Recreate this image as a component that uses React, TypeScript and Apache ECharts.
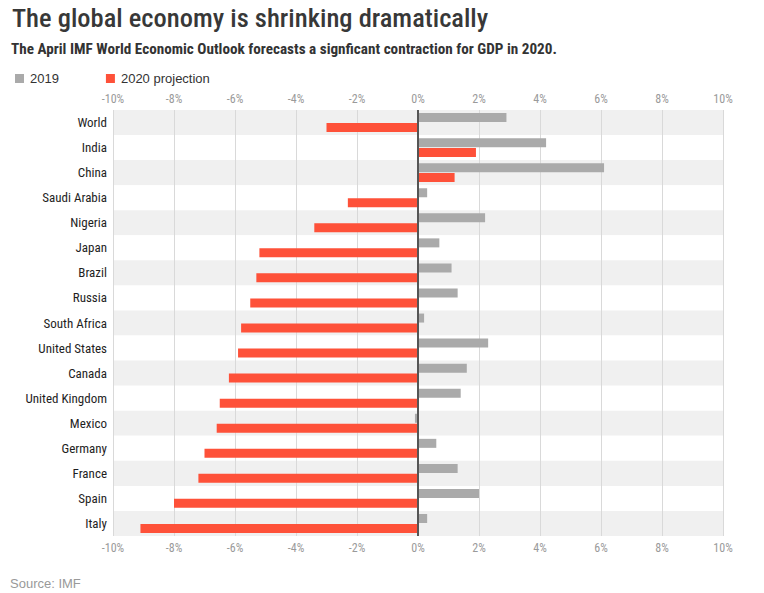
import React, { useEffect, useRef } from "react";
import * as echarts from "echarts";

const countries = [
  "World", "India", "China", "Saudi Arabia", "Nigeria", "Japan", "Brazil", "Russia",
  "South Africa", "United States", "Canada", "United Kingdom", "Mexico", "Germany",
  "France", "Spain", "Italy",
];
const gdp2019 = [2.9, 4.2, 6.1, 0.3, 2.2, 0.7, 1.1, 1.3, 0.2, 2.3, 1.6, 1.4, -0.1, 0.6, 1.3, 2.0, 0.3];
const gdp2020 = [-3.0, 1.9, 1.2, -2.3, -3.4, -5.2, -5.3, -5.5, -5.8, -5.9, -6.2, -6.5, -6.6, -7.0, -7.2, -8.0, -9.1];
const seriesNames = ["2019", "2020 projection"];
const titleText = "The global economy is shrinking dramatically";
const subtitleText = "The April IMF World Economic Outlook forecasts a signficant contraction for GDP in 2020.";
const sourceText = "Source: IMF";

const COND = "'Roboto Condensed', 'Open Sans Condensed', sans-serif";
const SANS = "'Liberation Sans', Arial, sans-serif";

export default function App() {
  const ref = useRef<HTMLDivElement>(null);
  useEffect(() => {
    if (!ref.current) return;
    const chart = echarts.init(ref.current, null, { renderer: "svg" });
    const xAxisBase = {
      type: "value" as const,
      min: -10,
      max: 10,
      interval: 2,
      axisLine: { show: false },
      axisTick: { show: false },
    };
    const labelBase = {
      formatter: (v: number) => `${v}%`,
      color: "#9a9a9a",
      fontFamily: COND,
      fontSize: 12,
    };
    chart.setOption({
      animation: false,
      backgroundColor: "#fff",
      legend: {
        left: 10,
        top: 67,
        icon: "rect",
        itemWidth: 9,
        itemHeight: 9,
        itemGap: 47,
        textStyle: { fontFamily: SANS, fontSize: 13, color: "#333", padding: [0, 0, 0, 1] },
        data: seriesNames,
      },
      graphic: [
        {
          type: "text",
          style: {
            x: 12,
            y: 17.5,
            text: titleText,
            fill: "#383838",
            font: `500 26.5px ${COND}`,
            verticalAlign: "middle",
          },
        },
        {
          type: "text",
          style: {
            x: 11,
            y: 48.5,
            text: subtitleText,
            fill: "#333",
            font: `bold 15.2px ${COND}`,
            verticalAlign: "middle",
          },
        },
        {
          type: "text",
          style: {
            x: 10,
            y: 583,
            text: sourceText,
            fill: "#999",
            font: `13px ${SANS}`,
            verticalAlign: "middle",
          },
        },
      ],
      grid: { left: 113, right: 41, top: 110, bottom: 57, containLabel: false },
      xAxis: [
        {
          ...xAxisBase,
          position: "bottom",
          splitLine: { show: true, lineStyle: { color: "#d9d9d9", width: 1 } },
          axisLabel: { ...labelBase, margin: 6 },
        },
        {
          ...xAxisBase,
          position: "top",
          splitLine: { show: false },
          axisLabel: { ...labelBase, margin: 5 },
        },
      ],
      yAxis: {
        type: "category",
        data: countries,
        inverse: true,
        axisLine: { show: false },
        axisTick: { show: false },
        splitLine: { show: false },
        splitArea: { show: true, areaStyle: { color: ["#f0f0f0", "#ffffff"] } },
        axisLabel: {
          color: "#1e1e1e",
          fontFamily: COND,
          fontSize: 13,
          fontWeight: "normal",
          margin: 6,
        },
      },
      series: [
        {
          name: seriesNames[0],
          type: "bar",
          data: gdp2019,
          barWidth: 9,
          barGap: "10%",
          itemStyle: { color: "#aaaaaa" },
          xAxisIndex: 0,
          markLine: {
            silent: true,
            symbol: "none",
            label: { show: false },
            lineStyle: { color: "#555", width: 2, type: "solid" },
            data: [{ xAxis: 0 }],
          },
        },
        {
          name: seriesNames[1],
          type: "bar",
          data: gdp2020,
          barWidth: 9,
          barGap: "10%",
          itemStyle: { color: "#fe5139" },
          xAxisIndex: 0,
        },
      ],
    });
    return () => chart.dispose();
  }, []);
  return (
    <div
      ref={ref}
      style={{ position: "absolute", left: 0, top: 0, width: 764, height: 593 }}
    />
  );
}
